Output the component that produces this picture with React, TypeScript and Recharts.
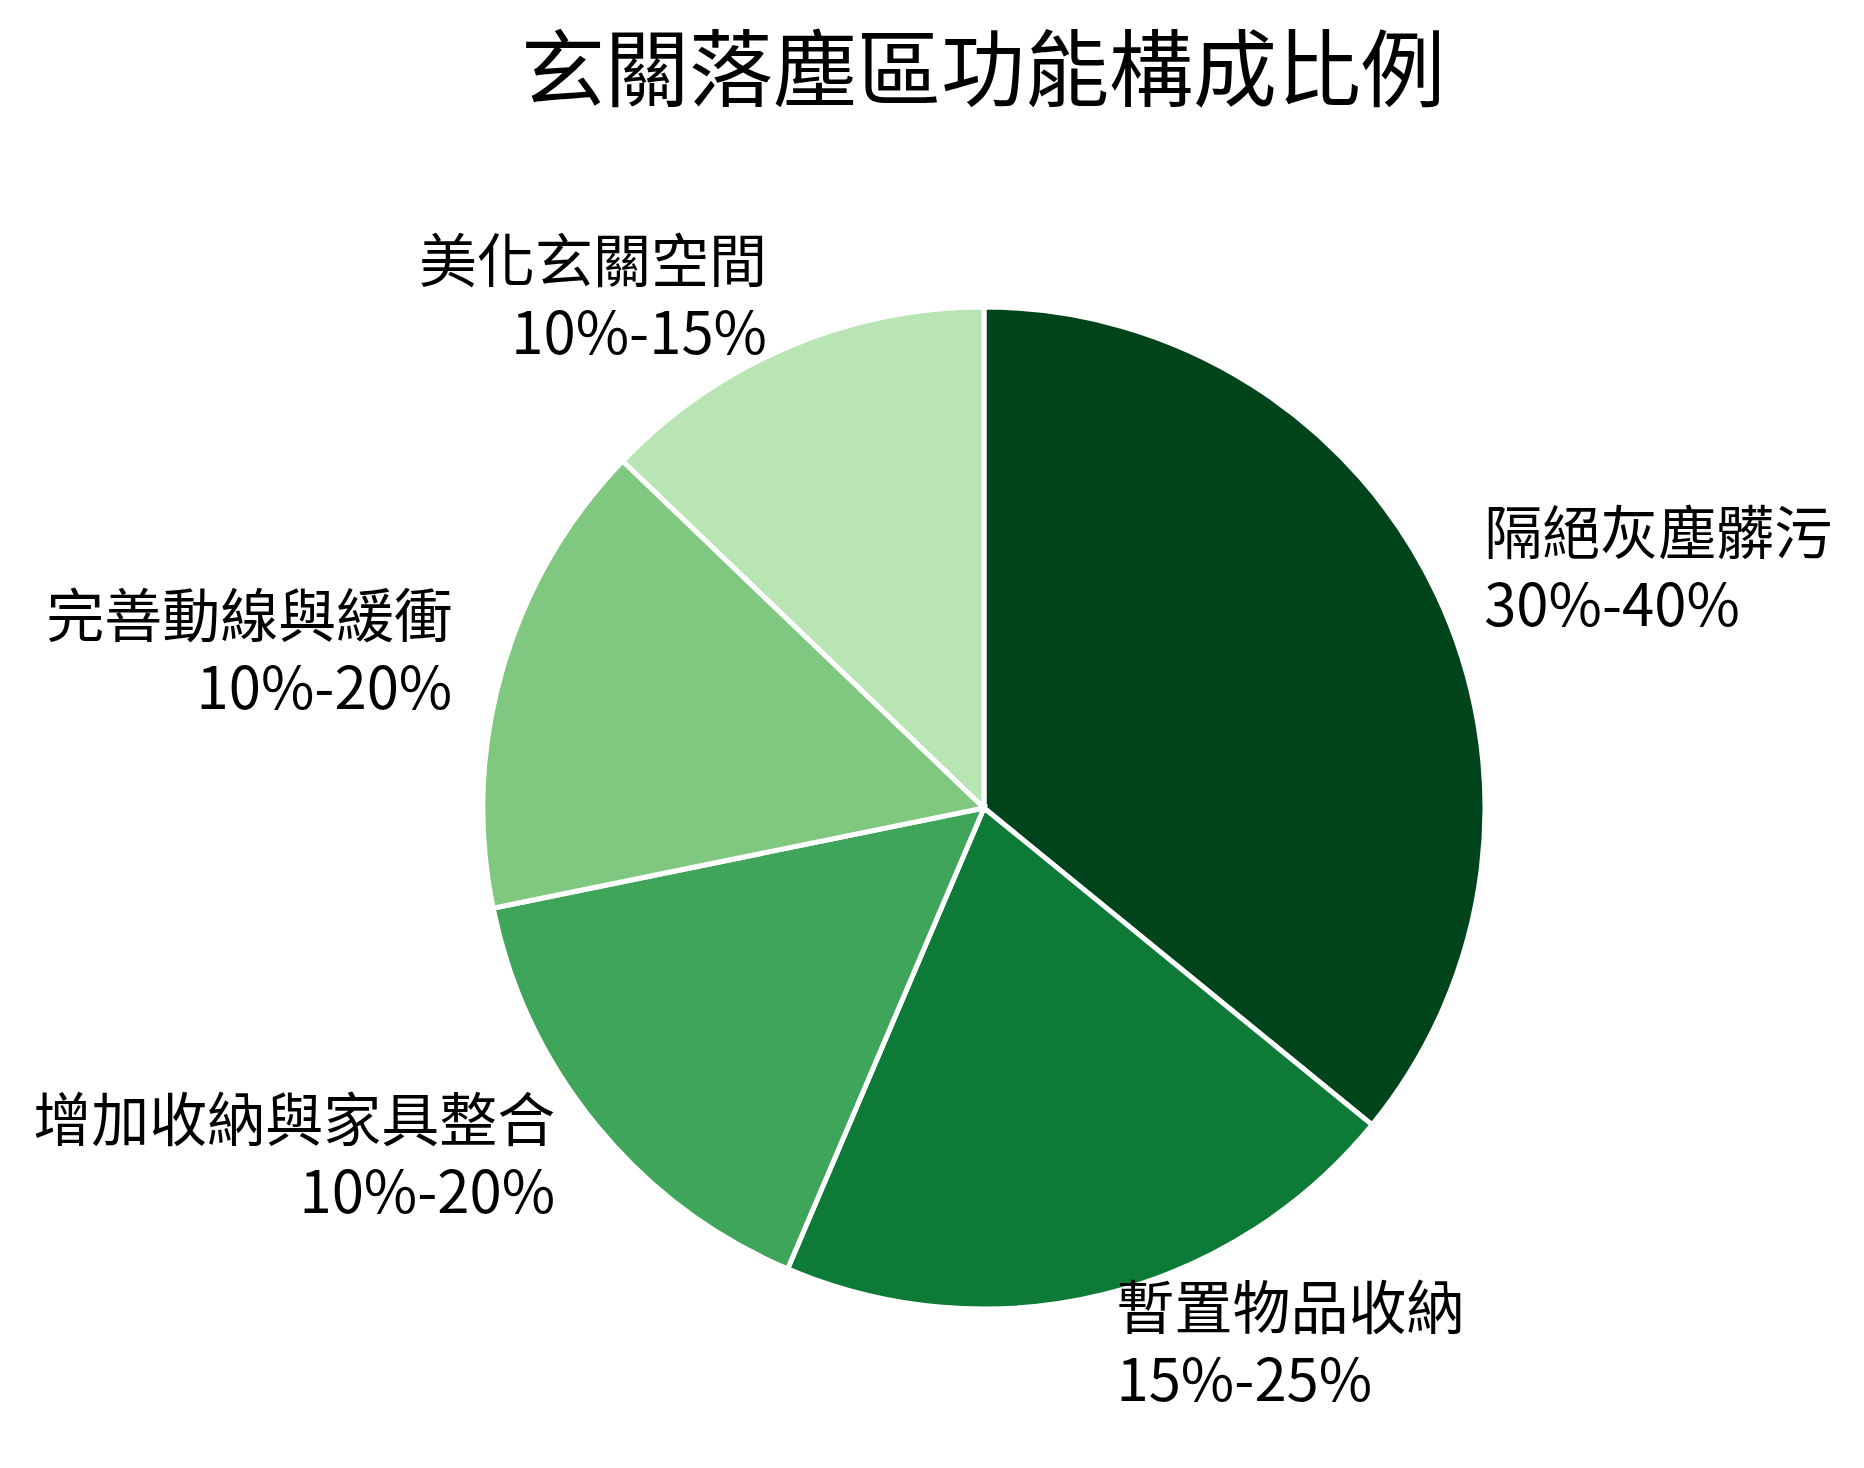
import { PieChart, Pie, Cell } from 'recharts';

const categories = ['隔絕灰塵髒污', '暫置物品收納', '增加收納與家具整合', '完善動線與緩衝', '美化玄關空間'];
const ranges = ['30%-40%', '15%-25%', '10%-20%', '10%-20%', '10%-15%'];
// midpoint of each range
const shares = [35, 20, 15, 15, 12.5];
const colors = ['#00441b', '#0e7a37', '#3ea55b', '#80c87f', '#b9e4b3'];

const data = categories.map((name, i) => ({ name, range: ranges[i], value: shares[i] }));

const FONT = '"Noto Sans CJK TC", "Noto Sans CJK SC", sans-serif';
const RADIAN = Math.PI / 180;

// two-line label outside the slice, left/right aligned like the original
const renderLabel = (props: any) => {
  const { cx, cy, midAngle, outerRadius, payload } = props;
  const r = outerRadius * 1.105;
  const x = cx + r * Math.cos(-midAngle * RADIAN);
  const y = cy + r * Math.sin(-midAngle * RADIAN) - 6;
  const anchor = x >= cx ? 'start' : 'end';
  const gap = 36;
  return (
    <text
      x={x}
      y={y - gap}
      textAnchor={anchor}
      dominantBaseline="central"
      fontSize={58}
      fontFamily={FONT}
      fill="#000"
    >
      <tspan x={x}>{payload.name}</tspan>
      <tspan x={x} dy={gap * 2}>{payload.range}</tspan>
    </text>
  );
};

export default function App() {
  return (
    <div style={{ position: 'absolute', left: 0, top: 0, width: 1864, height: 1468, background: '#fff' }}>
      <div
        style={{
          position: 'absolute',
          left: 983 - 600,
          width: 1200,
          top: 22,
          textAlign: 'center',
          fontFamily: FONT,
          fontSize: 84,
          lineHeight: '84px',
          color: '#000',
        }}
      >
        玄關落塵區功能構成比例
      </div>
      <PieChart width={1864} height={1468}>
        <Pie
          data={data}
          dataKey="value"
          cx={979}
          cy={803}
          outerRadius={501}
          startAngle={90}
          endAngle={-270}
          stroke="#fff"
          strokeWidth={5}
          label={renderLabel}
          labelLine={false}
          isAnimationActive={false}
        >
          {data.map((entry, index) => (
            <Cell key={`cell-${index}`} fill={colors[index]} />
          ))}
        </Pie>
      </PieChart>
    </div>
  );
}
